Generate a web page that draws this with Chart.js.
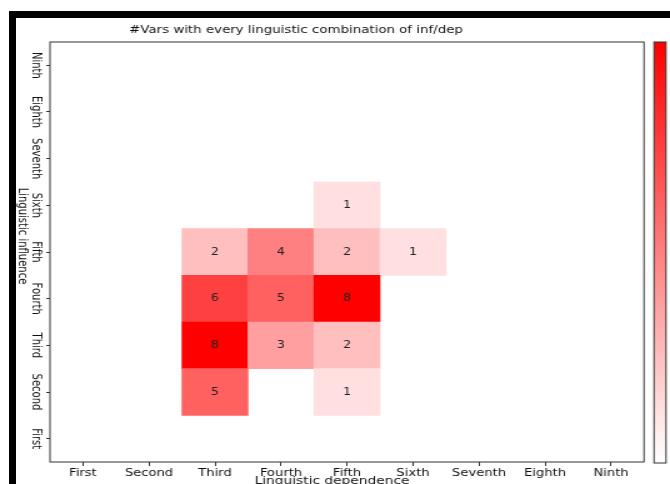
<!DOCTYPE html>
<html>
<head>
<meta charset="utf-8">
<script src="https://cdn.jsdelivr.net/npm/chart.js@4.4.0/dist/chart.umd.min.js"></script>
<style>
  html, body { margin: 0; padding: 0; background: #fff; }
  body { width: 670px; height: 484px; position: relative; overflow: hidden; }
  #frame { position: absolute; left: 9px; top: 11px; right: 0; bottom: 0; border-top: 7px solid #000; border-left: 7px solid #000; }
  #wrap { position: absolute; left: 0; top: 0; width: 536px; height: 484px; transform: scaleX(1.25); transform-origin: 0 0; }
</style>
</head>
<body>
<div id="frame"></div>
<div id="wrap"><canvas id="heat" width="536" height="484"></canvas></div>
<script>
const levels = ['First', 'Second', 'Third', 'Fourth', 'Fifth', 'Sixth', 'Seventh', 'Eighth', 'Ninth'];
// counts per influence row, one value per dependence column First..Ninth
const rowSecond = [0, 0, 5, 0, 1, 0, 0, 0, 0];
const rowThird  = [0, 0, 8, 3, 2, 0, 0, 0, 0];
const rowFourth = [0, 0, 6, 5, 8, 0, 0, 0, 0];
const rowFifth  = [0, 0, 2, 4, 2, 1, 0, 0, 0];
const rowSixth  = [0, 0, 0, 0, 1, 0, 0, 0, 0];
const rows = [[2, rowSecond], [3, rowThird], [4, rowFourth], [5, rowFifth], [6, rowSixth]];
const maxCount = 8;

const font = 'DejaVu Sans';
const ink = '#111';
const heat = v => {
    let c = Math.round(255 * (1 - v / maxCount));
    return `rgb(255,${c},${c})`;
};

const decor = {
    id: 'decor',
    afterDatasetsDraw(chart) {
        const ctx = chart.ctx;
        ctx.save();
        ctx.fillStyle = '#222';
        ctx.font = `10px "${font}"`;
        ctx.textAlign = 'center';
        ctx.textBaseline = 'middle';
        chart.data.datasets.forEach((ds, i) => {
            chart.getDatasetMeta(i).data.forEach((el, j) => {
                if (!ds.data[j]) return;
                ctx.fillText(ds.counts[j], el.x, (el.y + el.base) / 2);
            });
        });
        ctx.restore();
    },
    afterDraw(chart) {
        const ctx = chart.ctx;
        const a = chart.chartArea;
        const y = chart.scales.y;
        ctx.save();
        // plot frame
        ctx.strokeStyle = '#333';
        ctx.lineWidth = 1;
        ctx.strokeRect(a.left, a.top, a.right - a.left, a.bottom - a.top);

        // colour bar
        let g = ctx.createLinearGradient(0, a.top, 0, a.bottom);
        g.addColorStop(0, heat(maxCount));
        g.addColorStop(1, heat(0));
        ctx.fillStyle = g;
        ctx.fillRect(a.right + 8, a.top, 9.6, a.bottom - a.top + 1);
        ctx.strokeStyle = '#333';
        ctx.strokeRect(a.right + 8, a.top, 9.6, a.bottom - a.top + 1);

        ctx.fillStyle = ink;
        // title
        ctx.font = `10.7px "${font}"`;
        ctx.textAlign = 'center';
        ctx.textBaseline = 'alphabetic';
        ctx.fillText('#Vars with every linguistic combination of inf/dep', 236.8, 33);
        // x title
        ctx.font = `11px "${font}"`;
        ctx.fillText('Linguistic dependence', 265.6, 483.5);

        // y tick labels, rotated clockwise
        ctx.font = `10px "${font}"`;
        ctx.textBaseline = 'middle';
        y.ticks.forEach(t => {
            ctx.save();
            ctx.translate(28.8, y.getPixelForValue(t.value));
            ctx.rotate(Math.PI / 2);
            ctx.fillText(levels[t.value - 1], 0, 0);
            ctx.restore();
        });
        // y title
        ctx.translate(17.6, 236);
        ctx.rotate(Math.PI / 2);
        ctx.fillText('Linguistic influence', 0, 0);
        ctx.restore();
    }
};

new Chart(document.getElementById('heat'), {
    type: 'bar',
    data: {
        labels: levels,
        datasets: rows.map(([lvl, counts]) => ({
            label: levels[lvl - 1],
            data: counts.map(v => v > 0 ? [lvl - 0.5, lvl + 0.5] : null),
            counts: counts,
            backgroundColor: counts.map(heat),
            borderWidth: 0,
            barPercentage: 1,
            categoryPercentage: 1,
            grouped: false
        }))
    },
    options: {
        responsive: false,
        animation: false,
        layout: { padding: { left: 0, right: 20.8, top: 42, bottom: 0 } },
        plugins: {
            legend: { display: false },
            tooltip: { enabled: false }
        },
        scales: {
            x: {
                offset: true,
                border: { display: false },
                grid: { offset: false, drawOnChartArea: false, tickLength: 4, color: '#333' },
                ticks: { color: ink, font: { family: font, size: 10.5 }, padding: 1, maxRotation: 0, autoSkip: false },
                afterFit: s => { s.height = 22; }
            },
            y: {
                type: 'linear',
                min: 0.5,
                max: 9.5,
                afterBuildTicks: s => { s.ticks = levels.map((_, i) => ({ value: i + 1 })); },
                border: { display: false },
                grid: { drawOnChartArea: false, tickLength: 3, color: '#333' },
                ticks: { display: false },
                afterFit: s => { s.width = 40; }
            }
        }
    },
    plugins: [decor]
});
</script>
</body>
</html>
